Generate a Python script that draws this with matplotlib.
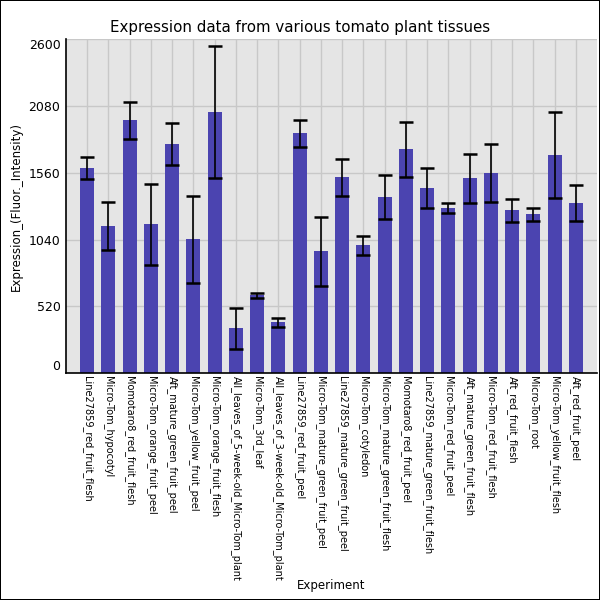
import matplotlib
matplotlib.use("Agg")
from matplotlib import pyplot as plt

experiments = [
    "Line27859_red_fruit_flesh",
    "Micro-Tom_hypocotyl",
    "Momotaro8_red_fruit_flesh",
    "Micro-Tom_orange_fruit_peel",
    "Aft_mature_green_fruit_peel",
    "Micro-Tom_yellow_fruit_peel",
    "Micro-Tom_orange_fruit_flesh",
    "All_leaves_of_5-week-old_Micro-Tom_plant",
    "Micro-Tom_3rd_leaf",
    "All_leaves_of_3-week-old_Micro-Tom_plant",
    "Line27859_red_fruit_peel",
    "Micro-Tom_mature_green_fruit_peel",
    "Line27859_mature_green_fruit_peel",
    "Micro-Tom_cotyledon",
    "Micro-Tom_mature_green_fruit_flesh",
    "Momotaro8_red_fruit_peel",
    "Line27859_mature_green_fruit_flesh",
    "Micro-Tom_red_fruit_peel",
    "Aft_mature_green_fruit_flesh",
    "Micro-Tom_red_fruit_flesh",
    "Aft_red_fruit_flesh",
    "Micro-Tom_root",
    "Micro-Tom_yellow_fruit_flesh",
    "Aft_red_fruit_peel",
]

expression = [1595, 1143, 1968, 1158, 1782, 1041, 2031, 348, 605, 395, 1867, 948,
              1524, 995, 1369, 1743, 1439, 1283, 1517, 1556, 1267, 1236, 1696, 1322]

std_dev = [85, 188, 145, 317, 166, 341, 513, 157, 21, 34, 104, 271,
           142, 72, 172, 213, 156, 38, 190, 225, 87, 51, 335, 139]

yticks = [0, 520, 1040, 1560, 2080, 2600]

fig = plt.figure(figsize=(6, 6), dpi=100)
fig.patch.set_edgecolor("black")
fig.patch.set_linewidth(1.2)
ax = fig.add_axes([0.11, 0.378, 0.885, 0.557])
ax.set_facecolor("#e5e5e5")

x = list(range(len(experiments)))
ax.bar(x, expression, width=0.66, color="#4b44b0", zorder=2)
ax.errorbar(x, expression, yerr=std_dev, fmt="none", ecolor="black",
            elinewidth=1.2, capsize=5, capthick=1.8, zorder=3)

ax.set_xlim(-1, len(experiments))
ax.set_ylim(0, 2600)
ax.set_yticks(yticks)
ax.set_xticks(x)
ax.set_xticklabels(experiments, rotation=270, fontsize=7, va="top", ha="center")
ax.tick_params(axis="both", length=0)
ax.tick_params(axis="x", pad=2)
ax.tick_params(axis="y", labelsize=9, pad=4)
# end labels stay inside the axes height
ylabels = ax.get_yticklabels()
ylabels[0].set_va("bottom")
ylabels[-1].set_va("top")

ax.grid(True, color="#c8c8c8", linewidth=1, zorder=0)
ax.set_axisbelow(True)
for side in ["top", "right"]:
    ax.spines[side].set_visible(False)
for side in ["left", "bottom"]:
    ax.spines[side].set_color("black")
    ax.spines[side].set_linewidth(1.2)

fig.suptitle("Expression data from various tomato plant tissues", fontsize=10.8, x=0.5, y=0.967)
ax.set_ylabel("Expression_(Fluor._Intensity)", fontsize=8.5)
ax.set_xlabel("Experiment", fontsize=8.5)
ax.xaxis.set_label_coords(0.5, -0.615)

fig.savefig("out.png", dpi=100, edgecolor=fig.get_edgecolor())
